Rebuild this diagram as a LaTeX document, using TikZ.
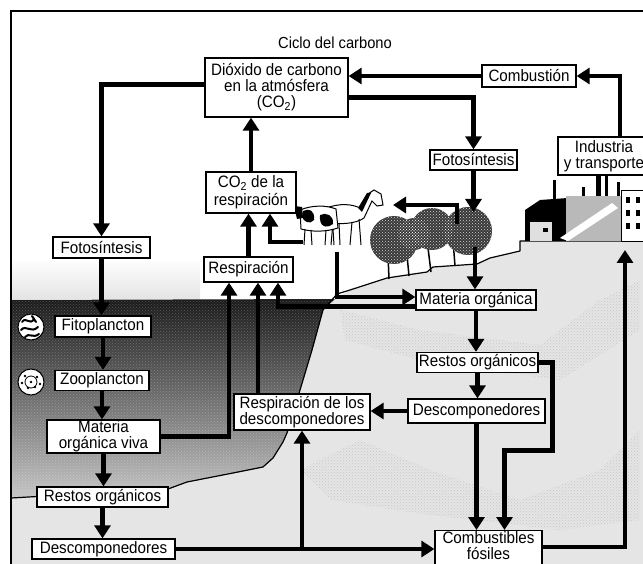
\documentclass[tikz,border=0pt]{standalone}
\usepackage{fontspec}
\setmainfont{Liberation Sans}[FakeStretch=0.92]
\usetikzlibrary{arrows.meta,calc,patterns}
\begin{document}
\begin{tikzpicture}[x=1pt,y=-1pt,
  box/.style={draw,line width=1.3pt,fill=white,inner sep=0pt,align=center,
    font=\fontsize{16.5}{16}\selectfont},
  flow/.style={line width=4.5pt,line join=miter,-{Triangle[width=16pt,length=13pt]}},
  edge/.style={line width=1.2pt,line join=round},
]
\useasboundingbox (0,0) rectangle (643,564);
\begin{scope}
\clip (0,0) rectangle (643,564);

% ---------- ground, sea floor and sea ----------
\fill[gray!20] (11,300) -- (335,299) -- (350,290) -- (387,278) -- (427,272)
  -- (433,267) -- (477,264) -- (490,258) -- (520,251) -- (520,241) -- (660,241)
  -- (660,580) -- (11,580) -- cycle;
\fill[pattern=crosshatch dots,pattern color=gray!70,opacity=0.5]
  (300,470) -- (360,440) -- (430,470) -- (520,500) -- (600,470) -- (640,430)
  -- (640,520) -- (560,530) -- (430,515) -- (330,500) -- cycle;
\fill[pattern=crosshatch dots,pattern color=gray!70,opacity=0.5]
  (340,310) -- (420,330) -- (540,345) -- (600,300) -- (640,280) -- (640,330)
  -- (560,380) -- (420,360) -- (345,340) -- cycle;
\shade[top color=black!90,bottom color=gray!45]
  (11,300) -- (335,299) -- (323,310) -- (312,350) -- (300,390) -- (287,433)
  -- (283,442) -- (273,458) -- (263,467) -- (233,473) -- (187,482) -- (168,489)
  -- (11,498) -- cycle;
\fill[pattern=crosshatch dots,pattern color=white,opacity=0.25]
  (11,300) -- (335,299) -- (323,310) -- (312,350) -- (300,390) -- (287,433)
  -- (283,442) -- (273,458) -- (263,467) -- (233,473) -- (187,482) -- (168,489)
  -- (11,498) -- cycle;
\shade[top color=white,bottom color=gray!30,opacity=0.7] (12,258) rectangle (200,299);
\draw[edge] (11,498) -- (168,489) -- (187,482) -- (233,473) -- (263,467)
  -- (273,458) -- (283,442) -- (287,433) -- (300,390) -- (312,350) -- (323,310)
  -- (337,294) -- (350,290) -- (387,278) -- (427,272) -- (433,267) -- (477,264)
  -- (490,258) -- (520,251) -- (520,241) -- (660,241);

% ---------- plankton ----------
\draw[fill=white,line width=1pt] (31,327) circle (13);
\begin{scope}[line width=2pt,line cap=round]
  \draw (22,322) .. controls (26,316) and (30,326) .. (34,319);
  \draw (21,330) .. controls (26,324) and (31,334) .. (38,327);
  \draw (25,337) .. controls (29,332) and (33,339) .. (39,334);
  \draw (32,316) -- (36,322);
\end{scope}
\draw[fill=white,line width=1pt] (31,382) circle (13);
\draw[line width=0.8pt] (31,382) circle (6);
\foreach \p in {(25,376),(37,377),(28,388),(35,387),(31,382),(22,383),(40,384)}
  \fill \p circle (1.3);

% ---------- herd ----------
\begin{scope}[line width=1pt]
  % horse
  \draw[fill=white] (326,208) .. controls (340,203) and (352,204) .. (360,208)
    -- (368,194) -- (374,190) -- (381,194) -- (383,205) -- (377,206) -- (372,201)
    -- (364,218) .. controls (356,224) and (338,225) .. (326,222) -- cycle;
  \fill (358,208) -- (367,193) -- (371,193) -- (362,212) -- cycle;
  \draw (333,222) -- (331,245) (339,223) -- (340,245) (352,222) -- (350,245)
    (359,219) -- (361,245);
  % cow
  \draw[fill=white] (300,210) .. controls (312,205) and (326,205) .. (336,209)
    -- (338,228) .. controls (326,232) and (312,232) .. (301,229) -- cycle;
  \fill (303,211) .. controls (309,208) and (315,210) .. (314,220)
    .. controls (310,225) and (303,222) .. (302,216) -- cycle;
  \fill (320,215) .. controls (326,212) and (334,215) .. (333,224)
    .. controls (326,229) and (319,227) .. (320,215) -- cycle;
  \fill (294,206) -- (302,207) -- (303,218) -- (297,219) -- cycle;
  \draw (305,229) -- (304,245) (311,230) -- (312,245) (326,230) -- (325,245)
    (333,229) -- (334,245);
\end{scope}

% ---------- trees ----------
\draw[line width=1.5pt] (388,255) -- (389,279) (407,255) -- (409,276)
  (428,248) -- (431,272) (453,240) -- (455,266);
\foreach \c/\r in {(394,240)/24,(432,229)/21,(468,231)/24,(414,234)/16}{
  \fill[black!78] \c circle (\r);
}
\foreach \c/\r in {(394,240)/24,(432,229)/21,(468,231)/24,(414,234)/16}{
  \fill[pattern=crosshatch dots,pattern color=white,opacity=0.8] \c circle (\r);
}

% ---------- factory ----------
\fill (553,180) rectangle (556,205);
\fill (582,187) rectangle (585,200);
\fill (596,175) rectangle (601,200);
\fill (605,175) rectangle (608,198);
\fill (617,182) rectangle (620,200);
\fill (525,210) -- (540,200) -- (568,198) -- (568,241) -- (525,241) -- cycle;
\fill[gray!25] (530,222) rectangle (552,241);
\fill (543,228) rectangle (548,232);
\fill[gray!55] (566,196) rectangle (621,241);
\fill[white] (560,238) -- (612,203) -- (618,208) -- (568,241) -- cycle;
\draw[line width=0.8pt,fill=white] (621,190) rectangle (650,241);
\foreach \y in {197,210,223}{
  \fill (626,\y) rectangle (630,\y+6);
  \fill (636,\y) rectangle (640,\y+6);
}

% ---------- frame ----------
\draw[line width=2pt] (11,11) rectangle (660,580);

% ---------- boxes ----------
\node[font=\fontsize{16}{15}\selectfont] (title) at (335,43) {Ciclo del carbono};
\node[box,minimum width=143pt,minimum height=59pt] (dioxido) at (276.5,87.5)
  {Dióxido de carbono\\en la atmósfera\\(CO\textsubscript{2})};
\node[box,minimum width=94pt,minimum height=22pt] (combustion) at (529,76) {Combustión};
\node[box,minimum width=87pt,minimum height=20pt] (fotoR) at (473.5,160) {Fotosíntesis};
\node[box,minimum width=92pt,minimum height=38pt] (industria) at (604,156)
  {Industria\\y transporte};
\node[box,minimum width=90pt,minimum height=41pt] (co2resp) at (251,192.5)
  {CO\textsubscript{2} de la\\[2pt]respiración};
\node[box,minimum width=89pt,minimum height=25pt] (respiracion) at (248.5,269.5) {Respiración};
\node[box,minimum width=97pt,minimum height=21pt] (fotoL) at (101.5,247.5) {Fotosíntesis};
\node[box,minimum width=96pt,minimum height=21pt] (fito) at (103,326.5) {Fitoplancton};
\node[box,minimum width=94pt,minimum height=20pt] (zoo) at (102,380.5) {Zooplancton};
\node[box,minimum width=113pt,minimum height=33pt] (materiaviva) at (103.5,436.5)
  {Materia\\orgánica viva};
\node[box,minimum width=131pt,minimum height=20pt] (restosL) at (102.5,497) {Restos orgánicos};
\node[box,minimum width=143pt,minimum height=20pt] (descompL) at (103.5,549) {Descomponedores};
\node[box,minimum width=120pt,minimum height=20pt] (materiaorg) at (476,300) {Materia orgánica};
\node[box,minimum width=121pt,minimum height=20pt] (restosR) at (477.5,362.5) {Restos orgánicos};
\node[box,minimum width=137pt,minimum height=24pt] (descompR) at (476.5,411) {Descomponedores};
\node[box,minimum width=136pt,minimum height=36pt] (respdesc) at (302,412)
  {Respiración de los\\descomponedores};
\node[box,minimum width=107pt,inner ysep=1pt,anchor=north] (combfos) at (488.5,530)
  {Combustibles\\fósiles\strut};

% ---------- free ends in the scene ----------
\coordinate (treetop) at (475,212);
\coordinate (treefoot) at (475,247);
\coordinate (treeside) at (457,224);
\coordinate (herd) at (393,205);
\coordinate (cowleg) at (337,252);
\coordinate (cowback) at (303,242);
\coordinate (factory) at (625,250);
\coordinate (r1) at ($(respiracion.south)+(-19.5,0)$);
\coordinate (r2) at ($(respiracion.south)+(9.5,0)$);
\coordinate (r3) at ($(respiracion.south)+(29.5,0)$);
\coordinate (bend) at ($(restosR.east)+(14,88)$);
\coordinate (fuelin) at (488.5,547);

% ---------- atmosphere ----------
\draw[flow] ($(dioxido.west)+(0,-3)$) -| (fotoL.north);
\draw[flow] (co2resp.north) -- (co2resp.north |- dioxido.south);
\draw[flow] (combustion.west) -- (combustion.west -| dioxido.east);
\draw[flow] ($(dioxido.east)+(0,10)$) -| (fotoR.north);
\draw[flow] ($(industria.north)+(16,0)$) |- (combustion.east);

% ---------- land ----------
\draw[flow] (fotoR.south) -- (fotoR.south |- treetop);
\draw[flow] (treefoot) -- (treefoot |- materiaorg.north);
\draw[flow] (treeside) |- (herd);
\draw[flow] (cowleg) |- ($(materiaorg.west)+(0,-3)$);
\draw[flow] (cowback) -| ($(co2resp.south)+(19,0)$);
\draw[flow] (respiracion.north) -- (respiracion.north |- co2resp.south);
\draw[flow] ($(materiaorg.south west)+(0,-4)$) -| (r3);
\draw[flow] (materiaorg.south) -- (materiaorg.south |- restosR.north);
\draw[flow] (restosR.south) -- (restosR.south |- descompR.north);
\draw[flow] (descompR.west) -- (descompR.west -| respdesc.east);
\draw[flow] (descompR.south) -- (descompR.south |- combfos.north);
\draw[flow] (restosR.east) -| (bend) -| ($(combfos.north)+(16,0)$);
\draw[flow] (combfos.east |- fuelin) -| (factory);

% ---------- sea ----------
\draw[flow] (fotoL.south) -- (fotoL.south |- fito.north);
\draw[flow] (fito.south) -- (fito.south |- zoo.north);
\draw[flow] (zoo.south) -- (zoo.south |- materiaviva.north);
\draw[flow] (materiaviva.south) -- (materiaviva.south |- restosL.north);
\draw[flow] (restosL.south) -- (restosL.south |- descompL.north);
\draw[flow] (materiaviva.east) -| (r1);
\draw[flow] (r2 |- respdesc.north) -- (r2);
\draw[flow] (descompL.east) -- (descompL.east -| combfos.west |- fuelin);
\draw[flow] (respdesc.south |- descompL.east) -- (respdesc.south);
\end{scope}
\end{tikzpicture}
\end{document}
